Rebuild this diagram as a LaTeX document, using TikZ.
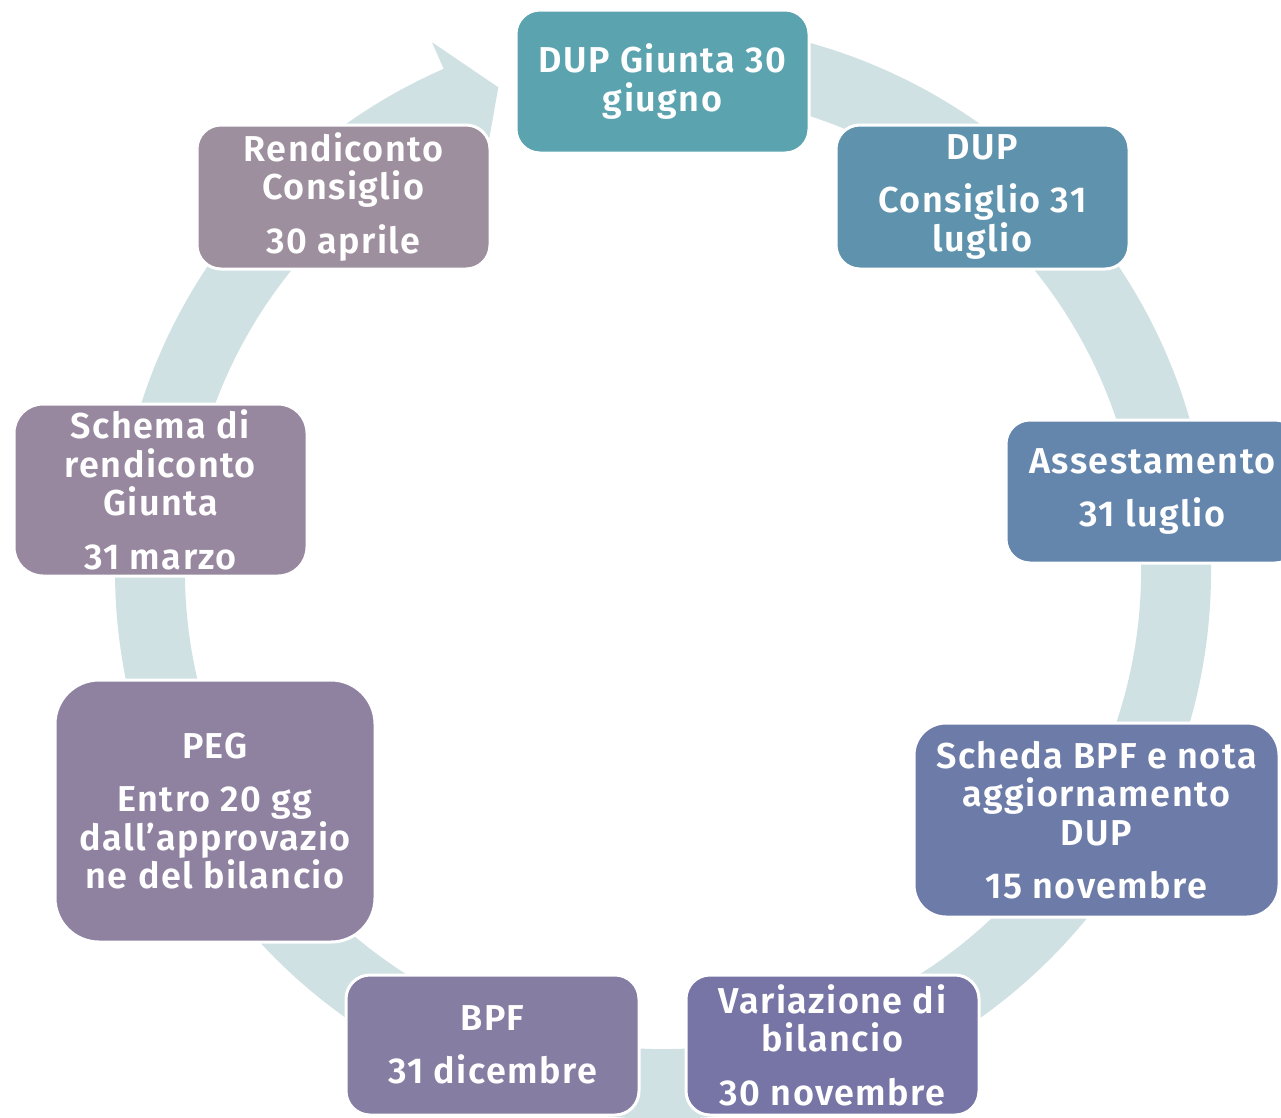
\documentclass[tikz,border=0pt]{standalone}
\usepackage{fontspec}
\setmainfont{Fira Sans SemiBold}[LetterSpace=4]
\definecolor{ringcol}{RGB}{208,225,228}
\definecolor{stageA}{RGB}{91,163,175}
\definecolor{stageB}{RGB}{95,147,173}
\definecolor{stageC}{RGB}{100,134,172}
\definecolor{stageD}{RGB}{109,123,168}
\definecolor{stageE}{RGB}{119,117,166}
\definecolor{stageF}{RGB}{134,125,163}
\definecolor{stageG}{RGB}{143,130,161}
\definecolor{stageH}{RGB}{151,136,159}
\definecolor{stageI}{RGB}{157,143,157}
\newcommand{\px}{0.75pt}
\tikzset{
  stage/.style={draw=white, line width=2.25pt, text=white, align=center,
    inner sep=0pt, font=\fontsize{27}{28.9}\selectfont,
    minimum width=293*\px, minimum height=143*\px, rounded corners=24*\px},
}
\begin{document}
\begin{tikzpicture}[x=0.75pt,y=0.75pt,yscale=-1,xscale=1]
\clip (0,0) rectangle (1281,1117);

%Shape: Circular Arrow
\begin{scope}[shift={(663,571)},yscale=-1]
\fill[ringcol] (95:548) arc[start angle=95, end angle=-246.4, radius=548]
  -- (113.6:577) -- (108.8:511) -- (113.6:445) -- (113.6:478)
  arc[start angle=-246.4, end angle=95, radius=478] -- cycle;
\end{scope}

% Stages
\node[stage, fill=stageA] (giunta) at (662.5,81.5) {DUP Giunta 30\\giugno};
\node[stage, fill=stageB, minimum height=144*\px] (dupcons) at (982.5,197) {DUP\\[11.25pt]Consiglio 31\\luglio};
\node[stage, fill=stageC] (assest) at (1152.5,491.5) {Assestamento\\[11.25pt]31 luglio};
\node[stage, fill=stageD, minimum width=365*\px, minimum height=194*\px, rounded corners=32*\px] (scheda) at (1096.5,820) {Scheda BPF e nota\\aggiornamento\\DUP\\[11.25pt]15 novembre};
\node[stage, fill=stageE, minimum height=140*\px] (variaz) at (832.5,1045) {Variazione di\\bilancio\\[11.25pt]30 novembre};
\node[stage, fill=stageF, minimum height=140*\px] (bpf) at (492.5,1045) {BPF\\[11.25pt]31 dicembre};
\node[stage, fill=stageG, minimum width=320*\px, minimum height=262*\px, rounded corners=44*\px] (peg) at (215,811) {PEG\\[11.25pt]Entro 20 gg\\dall’approvazio\\ne del bilancio};
\node[stage, fill=stageH, minimum height=172*\px, rounded corners=29*\px] (schema) at (160.5,490) {Schema di\\rendiconto\\Giunta\\[11.25pt]31 marzo};
\node[stage, fill=stageI, minimum height=144*\px] (rendcons) at (343.5,197) {Rendiconto\\Consiglio\\[11.25pt]30 aprile};

\end{tikzpicture}
\end{document}
